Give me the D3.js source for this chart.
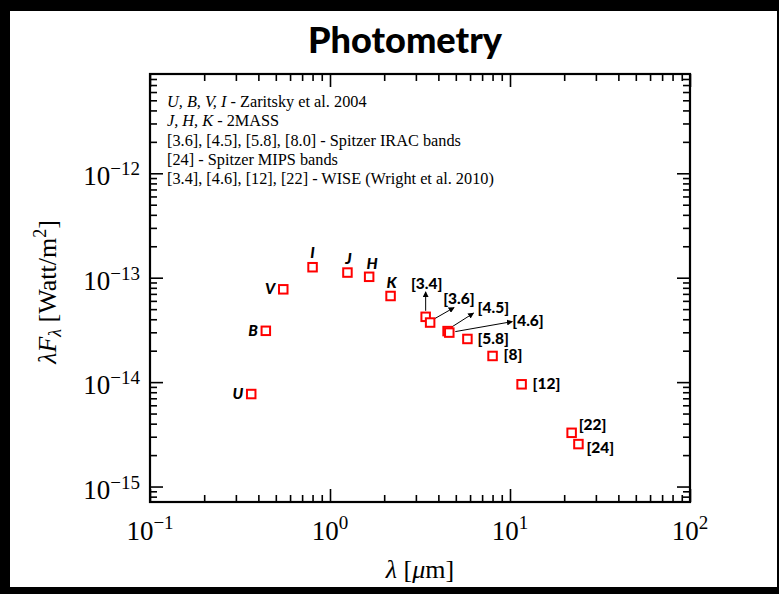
<!DOCTYPE html>
<html>
<head>
<meta charset="utf-8">
<script src="https://cdn.jsdelivr.net/npm/d3@7"></script>
<style>
  html, body { margin: 0; padding: 0; background: #000; }
  svg { display: block; }
</style>
</head>
<body>
<svg id="chart" width="779" height="594"></svg>
<script>
// Photometric bands, effective wavelengths (µm) and λFλ (W/m²)
const bands = ["U", "B", "V", "I", "J", "H", "K", "[3.4]", "[3.6]", "[4.5]", "[4.6]", "[5.8]", "[8]", "[12]", "[22]", "[24]"];
const wavelengths = [0.365, 0.44, 0.55, 0.80, 1.25, 1.65, 2.17, 3.4, 3.6, 4.5, 4.6, 5.8, 8.0, 11.6, 22, 24];
const fluxes = [7.69e-15, 3.10e-14, 7.74e-14, 1.26e-13, 1.12e-13, 1.02e-13, 6.68e-14, 4.22e-14, 3.72e-14, 3.08e-14, 2.98e-14, 2.59e-14, 1.78e-14, 9.53e-15, 3.27e-15, 2.55e-15];
const italicBands = ["U", "B", "V", "I", "J", "H", "K"];

// Axis domains and tick labels
const xDomain = [0.1, 100];
const yDomain = [7.11e-16, 8.93e-12];
const xTickLabels = [[0.1, "−1"], [1, "0"], [10, "1"], [100, "2"]];
const yTickLabels = [[1e-12, "−12"], [1e-13, "−13"], [1e-14, "−14"], [1e-15, "−15"]];

// Reference notes listed inside the plot
const notes = [
  [["U, B, V, I", true], [" - Zaritsky et al. 2004", false]],
  [["J, H, K", true], [" - 2MASS", false]],
  [["[3.6], [4.5], [5.8], [8.0] - Spitzer IRAC bands", false]],
  [["[24] - Spitzer MIPS bands", false]],
  [["[3.4], [4.6], [12], [22] - WISE (Wright et al. 2010)", false]]
];

// Label placement relative to each marker (pixels)
const labelLayout = {
  "U": {dx: -8, dy: 5, anchor: "end"},
  "B": {dx: -8, dy: 5, anchor: "end"},
  "V": {dx: -8, dy: 5, anchor: "end"},
  "I": {dx: 0, dy: -9, anchor: "middle"},
  "J": {dx: 1, dy: -9, anchor: "middle"},
  "H": {dx: 3, dy: -8, anchor: "middle"},
  "K": {dx: 1, dy: -8, anchor: "middle"},
  "[3.4]": {dx: 1, dy: -28, anchor: "middle", arrow: [0, -6, 0, -25]},
  "[3.6]": {dx: 13, dy: -19, anchor: "start", arrow: [3, -3, 24, -15]},
  "[4.5]": {dx: 30, dy: -18, anchor: "start", arrow: [4, -4, 26, -18]},
  "[4.6]": {dx: 63, dy: -7, anchor: "start", arrow: [6, -1, 63, -11]},
  "[5.8]": {dx: 10, dy: 5, anchor: "start"},
  "[8]": {dx: 11, dy: 4, anchor: "start"},
  "[12]": {dx: 11, dy: 5, anchor: "start"},
  "[22]": {dx: 7, dy: -3, anchor: "start"},
  "[24]": {dx: 8, dy: 9, anchor: "start"}
};

const svg = d3.select("#chart");
const plot = {left: 150, right: 690, top: 74, bottom: 502};

// White page panel on black
svg.append("rect").attr("x", 10).attr("y", 11).attr("width", 767).attr("height", 576).attr("fill", "#fff");

const x = d3.scaleLog().domain(xDomain).range([plot.left, plot.right]);
const y = d3.scaleLog().domain(yDomain).range([plot.bottom, plot.top]);

const isMajor = v => Math.abs(Math.log10(v) - Math.round(Math.log10(v))) < 1e-9;
const xMajor = x.ticks().filter(isMajor), xMinor = x.ticks().filter(v => !isMajor(v));
const yMajor = y.ticks().filter(isMajor), yMinor = y.ticks().filter(v => !isMajor(v));

const MAJ = 13, MIN = 7;
function tickAxis(axisFn, scale, values, size, tx, ty) {
  const g = svg.append("g").attr("transform", `translate(${tx},${ty})`)
    .call(axisFn(scale).tickValues(values).tickSize(-size).tickFormat(""));
  g.select(".domain").remove();
  g.selectAll(".tick line").attr("stroke", "#000").attr("stroke-width", 1.6);
}
tickAxis(d3.axisBottom, x, xMinor, MIN, 0, plot.bottom);
tickAxis(d3.axisBottom, x, xMajor, MAJ, 0, plot.bottom);
tickAxis(d3.axisTop, x, xMinor, MIN, 0, plot.top);
tickAxis(d3.axisTop, x, xMajor, MAJ, 0, plot.top);
tickAxis(d3.axisLeft, y, yMinor, MIN, plot.left, 0);
tickAxis(d3.axisLeft, y, yMajor, MAJ, plot.left, 0);
tickAxis(d3.axisRight, y, yMinor, MIN, plot.right, 0);
tickAxis(d3.axisRight, y, yMajor, MAJ, plot.right, 0);

// Frame
svg.append("rect")
  .attr("x", plot.left).attr("y", plot.top)
  .attr("width", plot.right - plot.left).attr("height", plot.bottom - plot.top)
  .attr("fill", "none").attr("stroke", "#000").attr("stroke-width", 2.2);

const serif = "'Liberation Serif', 'DejaVu Serif', serif";
const sans = "Lato, 'Open Sans', sans-serif";

// Power-of-ten tick labels
function powerLabel(g, base, exp, size, supSize, rise) {
  g.append("tspan").text(base).attr("font-size", size);
  g.append("tspan").text(exp).attr("font-size", supSize).attr("dy", -rise);
}
xTickLabels.forEach(([v, e]) => {
  const t = svg.append("text").attr("x", x(v)).attr("y", 540)
    .attr("text-anchor", "middle").attr("font-family", serif).attr("fill", "#000");
  powerLabel(t, "10", e, 27, 19, 11);
});
yTickLabels.forEach(([v, e]) => {
  const t = svg.append("text").attr("x", 140).attr("y", y(v) + 12)
    .attr("text-anchor", "end").attr("font-family", serif).attr("fill", "#000");
  powerLabel(t, "10", e, 27, 19, 10);
});

// Axis titles
const xt = svg.append("text").attr("x", 420).attr("y", 578).attr("text-anchor", "middle")
  .attr("font-family", serif).attr("font-size", 26).attr("fill", "#000");
xt.append("tspan").text("λ").attr("font-style", "italic");
xt.append("tspan").text(" [");
xt.append("tspan").text("μ").attr("font-style", "italic");
xt.append("tspan").text("m]");

const yt = svg.append("text").attr("transform", "translate(56,292) rotate(-90)")
  .attr("text-anchor", "middle").attr("font-family", serif).attr("font-size", 26).attr("fill", "#000");
yt.append("tspan").text("λF").attr("font-style", "italic");
yt.append("tspan").text("λ").attr("font-style", "italic").attr("font-size", 18).attr("dy", 5);
yt.append("tspan").text(" [Watt/m").attr("dy", -5);
yt.append("tspan").text("2").attr("font-size", 18).attr("dy", -10);
yt.append("tspan").text("]").attr("dy", 10);

// Title, sized to span its measured width
const title = svg.append("text").attr("x", 405).attr("y", 53).attr("text-anchor", "middle")
  .attr("font-family", sans).attr("font-weight", 900).attr("font-size", 28).attr("fill", "#000")
  .text("Photometry");
const tw = title.node().getComputedTextLength();
if (tw > 0) title.attr("font-size", 28 * 194 / tw);

// Notes block
notes.forEach((line, i) => {
  const t = svg.append("text").attr("x", 167).attr("y", 107 + i * 19.3)
    .attr("font-family", serif).attr("font-size", 16.3).attr("fill", "#000");
  line.forEach(([s, it]) => t.append("tspan").text(s).attr("font-style", it ? "italic" : "normal"));
});

// Arrow marker
svg.append("defs").append("marker")
  .attr("id", "arrowhead").attr("viewBox", "0 0 10 10").attr("refX", 9).attr("refY", 5)
  .attr("markerWidth", 6).attr("markerHeight", 6).attr("orient", "auto")
  .append("path").attr("d", "M0,0 L10,5 L0,10 z").attr("fill", "#000");

const points = bands.map((b, i) => ({band: b, lam: wavelengths[i], f: fluxes[i]}));

// Leader arrows
svg.append("g").selectAll("line").data(points.filter(p => labelLayout[p.band].arrow)).join("line")
  .attr("x1", p => x(p.lam) + labelLayout[p.band].arrow[0])
  .attr("y1", p => y(p.f) + labelLayout[p.band].arrow[1])
  .attr("x2", p => x(p.lam) + labelLayout[p.band].arrow[2])
  .attr("y2", p => y(p.f) + labelLayout[p.band].arrow[3])
  .attr("stroke", "#000").attr("stroke-width", 1)
  .attr("marker-end", "url(#arrowhead)");

// Markers
const S = 8.5;
svg.append("g").selectAll("rect").data(points).join("rect")
  .attr("x", p => x(p.lam) - S / 2).attr("y", p => y(p.f) - S / 2)
  .attr("width", S).attr("height", S)
  .attr("fill", "#fff").attr("stroke", "#ff0000").attr("stroke-width", 2);

// Band labels
svg.append("g").selectAll("text").data(points).join("text")
  .attr("x", p => x(p.lam) + labelLayout[p.band].dx)
  .attr("y", p => y(p.f) + labelLayout[p.band].dy)
  .attr("text-anchor", p => labelLayout[p.band].anchor)
  .attr("font-family", sans).attr("font-weight", 900).attr("font-size", 15.5)
  .attr("font-style", p => italicBands.includes(p.band) ? "italic" : "normal")
  .attr("fill", "#000")
  .text(p => p.band);
</script>
</body>
</html>
